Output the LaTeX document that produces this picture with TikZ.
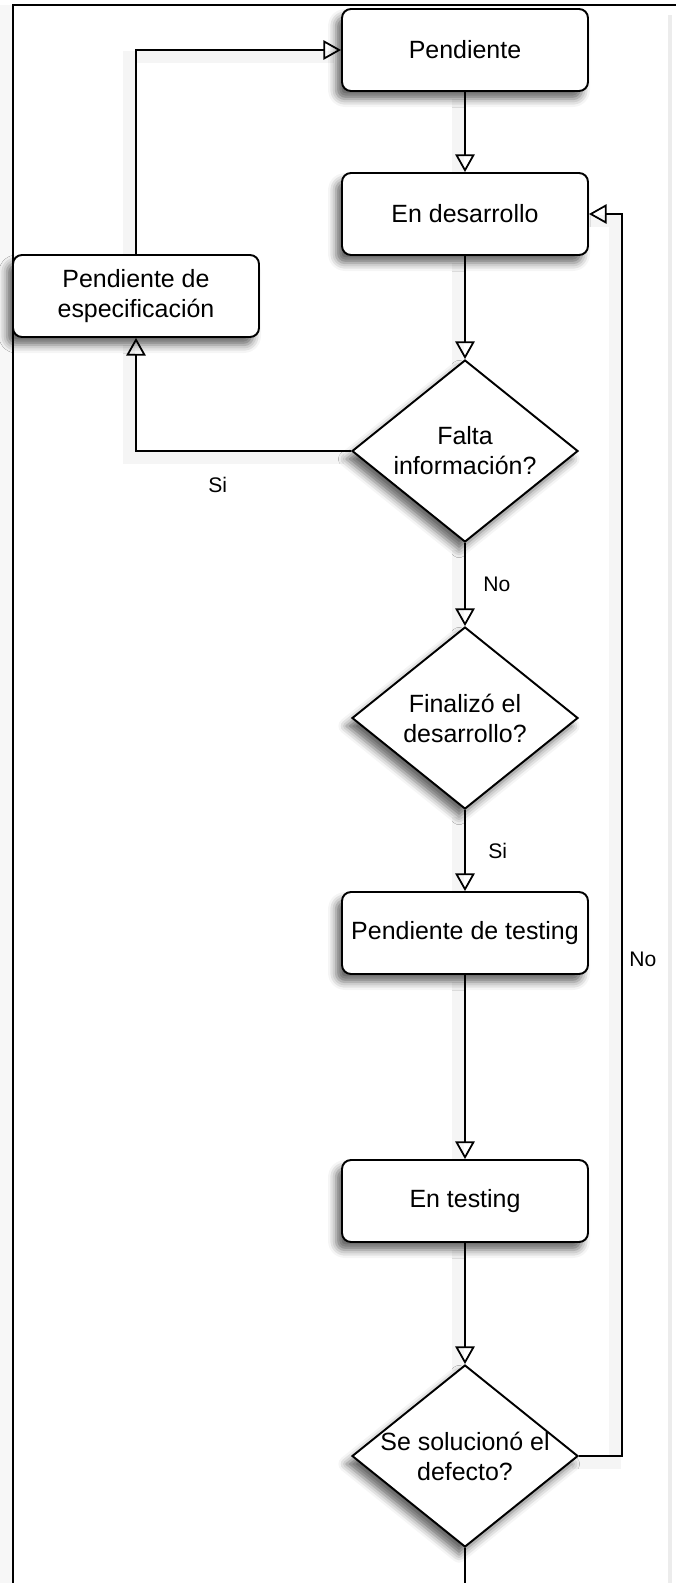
\documentclass[tikz,border=0pt]{standalone}
\usepackage{fontspec}
\setmainfont{Liberation Sans}
\usepackage{tikz}
\usetikzlibrary{shapes.geometric,arrows.meta,backgrounds,shadows.blur}
\tikzset{>={Triangle[open,length=10pt,width=11pt]}}
\tikzset{%
    state/.style={%
        draw, line width=1.1pt, fill=white, rounded corners=0.18cm,
        minimum width=4.92cm, minimum height=1.64cm, align=center,
        font=\fontsize{14.2}{17}\selectfont,
        blur shadow={shadow xshift=-0.12cm, shadow yshift=-0.16cm,
            shadow blur radius=0.16cm, shadow opacity=60}
    },
    decision/.style={%
        diamond, draw, line width=1.1pt, fill=white, inner sep=0pt,
        minimum width=4.52cm, minimum height=3.64cm,
        blur shadow={shadow xshift=-0.12cm, shadow yshift=-0.16cm,
            shadow blur radius=0.16cm, shadow opacity=60}
    },
    every label/.style={font=\fontsize{14.2}{17}\selectfont, align=center},
    answer/.style={font=\fontsize{12}{14}\selectfont, inner sep=0pt},
    flow/.style={->, line width=1pt,
        preaction={draw=black!4, line width=7pt, arrows=-,
            transform canvas={xshift=-0.14cm, yshift=-0.14cm}}}
}

\begin{document}
\begin{tikzpicture}
\useasboundingbox (0,0) rectangle (13.52,-31.66);
% page edges
\fill[gray!6] (0,-0.1) rectangle (0.24,-31.66);
\draw[gray!15, line width=2pt] (13.4,-0.3) -- (13.4,-31.66);
\draw[line width=1.3pt] (13.52,-0.1) -- (0.26,-0.1) -- (0.26,-31.66);

\node[state] (pend) at (9.3,-1.0) {Pendiente};
\node[state] (endes) at (9.3,-4.28) {En desarrollo};
\node[state] (pendesp) at (2.72,-5.92) {Pendiente de\\especificaci\'on};
\node[decision, label={center:Falta\\informaci\'on?}] (falta) at (9.3,-9.02) {};
\node[decision, label={center:Finaliz\'o el\\desarrollo?}] (finaliz) at (9.3,-14.36) {};
\node[state] (pendtest) at (9.3,-18.66) {Pendiente de testing};
\node[state] (entest) at (9.3,-24.02) {En testing};
\node[decision, label={center:Se solucion\'o el\\defecto?}] (sol) at (9.3,-29.12) {};
\coordinate (salida) at (9.3,-31.66);

\begin{pgfonlayer}{background}
\draw[flow] (pend) -- (endes);
\draw[flow] (endes) -- (falta);
\draw[flow] (falta.west) -| node[answer, pos=0.31, below=0.5cm] {Si} (pendesp.south);
\draw[flow] (pendesp.north) |- (pend.west);
\draw[flow] (falta) -- node[answer, right=0.35cm] {No} (finaliz);
\draw[flow] (finaliz) -- node[answer, right=0.45cm] {Si} (pendtest);
\draw[flow] (pendtest) -- (entest);
\draw[flow] (entest) -- (sol);
\draw[flow] (sol.east) -- ++(0.86,0) |- node[answer, pos=0.2, right=0.13cm] {No} (endes.east);
\draw[line width=1pt] (sol.south) -- (salida);
\end{pgfonlayer}
\end{tikzpicture}
\end{document}
